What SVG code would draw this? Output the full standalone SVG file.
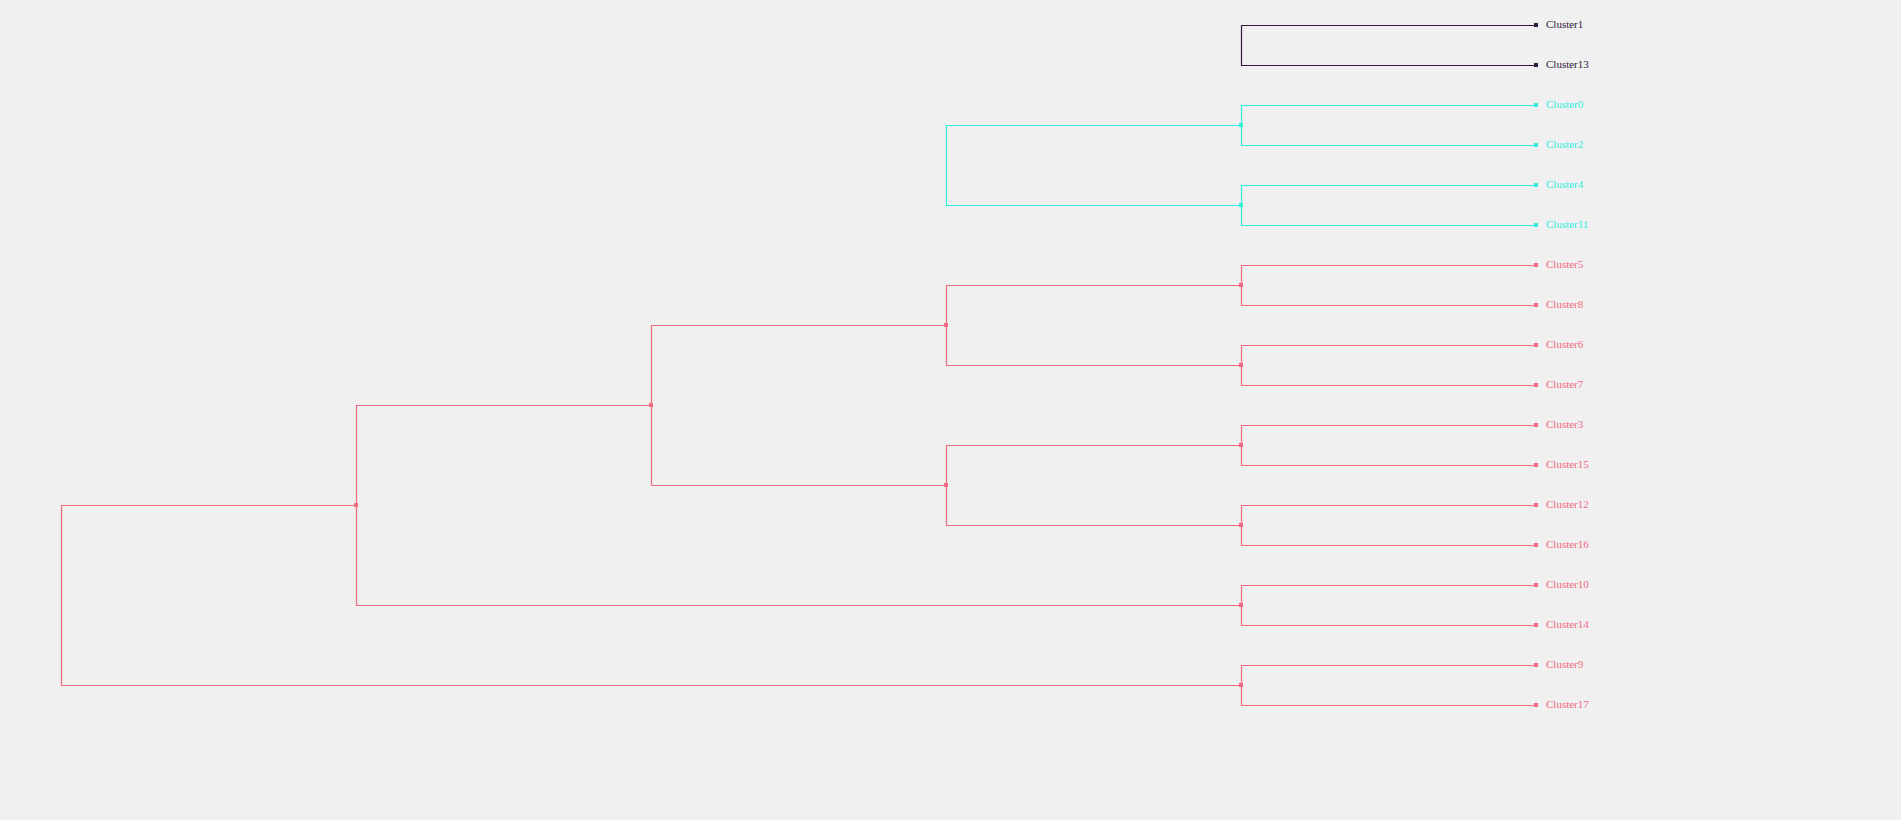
<svg xmlns="http://www.w3.org/2000/svg" width="1901" height="820" viewBox="0 0 1901 820">
<style>
.bg{fill:#f0f0f0}
.e{fill:none;stroke-width:1.2}
.d{stroke:#35193f}
.c{stroke:#2eeedb}
.p{stroke:#f26b7e}
.md{fill:#35193f}
.mc{fill:#2eeedb}
.mp{fill:#f26b7e}
text{font-family:"Liberation Serif","Times New Roman",serif;font-size:11px}
.td{fill:#35193f}
.tc{fill:#2eeedb}
.tp{fill:#f26b7e}
</style>
<rect class="bg" x="0" y="0" width="1901" height="820"/>
<g id="connectors">
<path class="e d" d="M1536,25.5H1241.5V65.5H1536"/>
<path class="e c" d="M1536,105.5H1241.5V145.5H1536"/>
<path class="e c" d="M1536,185.5H1241.5V225.5H1536"/>
<path class="e c" d="M1241,125.5H946.5V205.5H1241"/>
<path class="e p" d="M1536,265.5H1241.5V305.5H1536"/>
<path class="e p" d="M1536,345.5H1241.5V385.5H1536"/>
<path class="e p" d="M1536,425.5H1241.5V465.5H1536"/>
<path class="e p" d="M1536,505.5H1241.5V545.5H1536"/>
<path class="e p" d="M1536,585.5H1241.5V625.5H1536"/>
<path class="e p" d="M1536,665.5H1241.5V705.5H1536"/>
<path class="e p" d="M1241,285.5H946.5V365.5H1241"/>
<path class="e p" d="M1241,445.5H946.5V525.5H1241"/>
<path class="e p" d="M946,325.5H651.5V485.5H946"/>
<path class="e p" d="M651,405.5H356.5V605.5H1241"/>
<path class="e p" d="M356,505.5H61.5V685.5H1241"/>
</g>
<g id="internal-nodes">
<rect class="mc" x="1239" y="123" width="4" height="4"/>
<rect class="mc" x="1239" y="203" width="4" height="4"/>
<rect class="mp" x="1239" y="283" width="4" height="4"/>
<rect class="mp" x="1239" y="363" width="4" height="4"/>
<rect class="mp" x="1239" y="443" width="4" height="4"/>
<rect class="mp" x="1239" y="523" width="4" height="4"/>
<rect class="mp" x="1239" y="603" width="4" height="4"/>
<rect class="mp" x="1239" y="683" width="4" height="4"/>
<rect class="mp" x="944" y="323" width="4" height="4"/>
<rect class="mp" x="944" y="483" width="4" height="4"/>
<rect class="mp" x="649" y="403" width="4" height="4"/>
<rect class="mp" x="354" y="503" width="4" height="4"/>
</g>
<g id="leaf-Cluster1"><rect class="md" x="1534" y="23" width="4" height="4"/><text class="td" x="1546" y="28">Cluster1</text></g>
<g id="leaf-Cluster13"><rect class="md" x="1534" y="63" width="4" height="4"/><text class="td" x="1546" y="68">Cluster13</text></g>
<g id="leaf-Cluster0"><rect class="mc" x="1534" y="103" width="4" height="4"/><text class="tc" x="1546" y="108">Cluster0</text></g>
<g id="leaf-Cluster2"><rect class="mc" x="1534" y="143" width="4" height="4"/><text class="tc" x="1546" y="148">Cluster2</text></g>
<g id="leaf-Cluster4"><rect class="mc" x="1534" y="183" width="4" height="4"/><text class="tc" x="1546" y="188">Cluster4</text></g>
<g id="leaf-Cluster11"><rect class="mc" x="1534" y="223" width="4" height="4"/><text class="tc" x="1546" y="228">Cluster11</text></g>
<g id="leaf-Cluster5"><rect class="mp" x="1534" y="263" width="4" height="4"/><text class="tp" x="1546" y="268">Cluster5</text></g>
<g id="leaf-Cluster8"><rect class="mp" x="1534" y="303" width="4" height="4"/><text class="tp" x="1546" y="308">Cluster8</text></g>
<g id="leaf-Cluster6"><rect class="mp" x="1534" y="343" width="4" height="4"/><text class="tp" x="1546" y="348">Cluster6</text></g>
<g id="leaf-Cluster7"><rect class="mp" x="1534" y="383" width="4" height="4"/><text class="tp" x="1546" y="388">Cluster7</text></g>
<g id="leaf-Cluster3"><rect class="mp" x="1534" y="423" width="4" height="4"/><text class="tp" x="1546" y="428">Cluster3</text></g>
<g id="leaf-Cluster15"><rect class="mp" x="1534" y="463" width="4" height="4"/><text class="tp" x="1546" y="468">Cluster15</text></g>
<g id="leaf-Cluster12"><rect class="mp" x="1534" y="503" width="4" height="4"/><text class="tp" x="1546" y="508">Cluster12</text></g>
<g id="leaf-Cluster16"><rect class="mp" x="1534" y="543" width="4" height="4"/><text class="tp" x="1546" y="548">Cluster16</text></g>
<g id="leaf-Cluster10"><rect class="mp" x="1534" y="583" width="4" height="4"/><text class="tp" x="1546" y="588">Cluster10</text></g>
<g id="leaf-Cluster14"><rect class="mp" x="1534" y="623" width="4" height="4"/><text class="tp" x="1546" y="628">Cluster14</text></g>
<g id="leaf-Cluster9"><rect class="mp" x="1534" y="663" width="4" height="4"/><text class="tp" x="1546" y="668">Cluster9</text></g>
<g id="leaf-Cluster17"><rect class="mp" x="1534" y="703" width="4" height="4"/><text class="tp" x="1546" y="708">Cluster17</text></g>
</svg>
